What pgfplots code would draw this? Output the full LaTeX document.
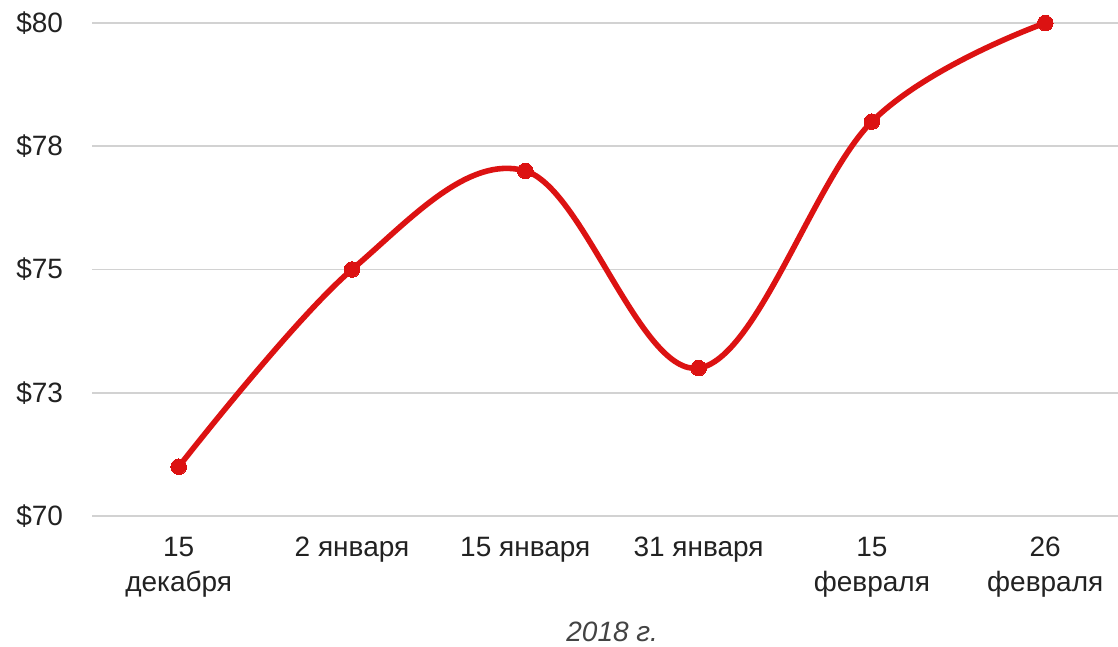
\documentclass[border=0pt]{standalone}
\usepackage{fontspec}
\setmainfont{Liberation Sans}
\usepackage{pgfplots}
\pgfplotsset{compat=1.18}
\definecolor{linered}{RGB}{220,18,18}
\definecolor{gridgray}{RGB}{210,210,210}
\definecolor{labelgray}{RGB}{34,34,34}
\begin{document}
\begin{tikzpicture}
\begin{axis}[
    scale only axis,
    width=513pt, height=246.5pt,
    xmin=-0.5, xmax=5.42,
    ymin=70, ymax=80,
    axis line style={draw=none},
    major tick length=0pt,
    ytick={70,72.5,75,77.5,80},
    yticklabels={\$70,\$73,\$75,\$78,\$80},
    xtick={0,...,5},
    xticklabels={15\\декабря,2 января,15 января,31 января,15\\февраля,26\\февраля},
    ymajorgrids,
    grid style={gridgray, line width=0.8pt},
    tick label style={font=\fontsize{14}{17.5}\selectfont, text=labelgray},
    xticklabel style={align=center, anchor=north, yshift=-7pt},
    yticklabel style={anchor=east, xshift=-11pt},
    xlabel={\itshape 2018 г.},
    xlabel style={font=\fontsize{14}{16}\selectfont, text=labelgray!85, at={(rel axis cs:0.507,-0.235)}, anchor=center},
    clip=false,
]
\addplot[linered, line width=2.8pt, smooth, tension=0.6, mark=*, mark options={fill=linered, draw=linered, line width=0pt}, mark size=3.9pt]
    coordinates {(0,71) (1,75) (2,77) (3,73) (4,78) (5,80)};
\coordinate (bl) at (rel axis cs:-0.0897,-0.2657);
\coordinate (tr) at (rel axis cs:1,1.0467);
\end{axis}
\pgfresetboundingbox
\path (bl) rectangle (tr);
\end{tikzpicture}
\end{document}
